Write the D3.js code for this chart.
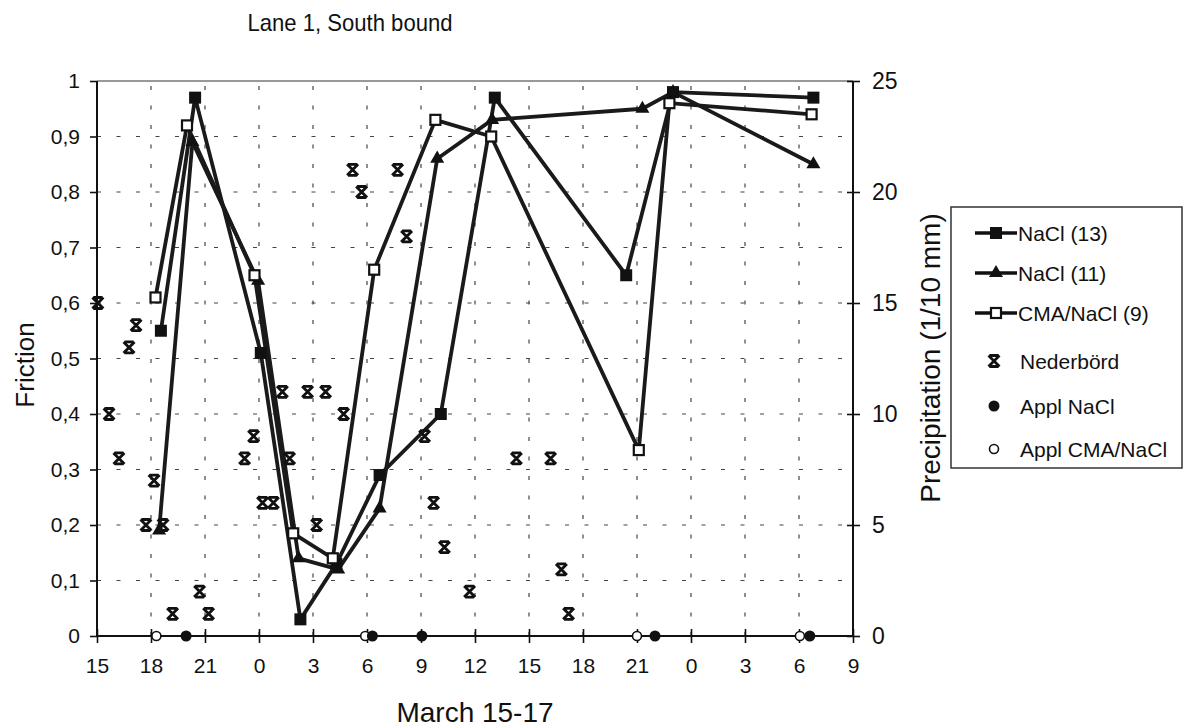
<!DOCTYPE html>
<html><head><meta charset="utf-8">
<script src="https://cdn.jsdelivr.net/npm/d3@7"></script>
<style>body{margin:0;background:#fff}svg{display:block}text{font-family:"Liberation Sans",Arial,sans-serif;fill:#111}</style>
</head><body>
<script>
// hours after 15:00, March 15
const xTickHours = [0,3,6,9,12,15,18,21,24,27,30,33,36,39,42];
const xTickLabels = ["15","18","21","0","3","6","9","12","15","18","21","0","3","6","9"];
const yTicks = [0,0.1,0.2,0.3,0.4,0.5,0.6,0.7,0.8,0.9,1];
const y2Ticks = [0,5,10,15,20,25];

const nacl13Hours = [3.55,5.45,9.1,11.3,13.3,15.7,19.1,22.1,29.4,32.0,39.8];
const nacl13Values = [0.55,0.97,0.51,0.03,0.13,0.29,0.40,0.97,0.65,0.98,0.97];
const nacl11Hours = [3.45,5.3,8.95,11.2,13.4,15.7,18.9,21.95,30.3,32.0,39.8];
const nacl11Values = [0.19,0.89,0.64,0.14,0.12,0.23,0.86,0.93,0.95,0.98,0.85];
const cmaHours = [3.25,5.0,8.75,10.9,13.1,15.4,18.8,21.9,30.1,31.8,39.7];
const cmaValues = [0.61,0.92,0.65,0.185,0.14,0.66,0.93,0.90,0.335,0.96,0.94];

const precipHours = [0.05,0.67,1.22,1.78,2.17,2.72,3.17,3.67,4.2,5.7,6.2,8.2,8.7,9.2,9.8,10.3,10.7,11.7,12.2,12.7,13.7,14.2,14.7,16.7,17.2,18.2,18.7,19.3,20.7,23.3,25.2,25.8,26.2];
const precipValues = [15,10,8,13,14,5,7,5,1,2,1,8,9,6,6,11,8,11,5,11,10,21,20,21,18,9,6,4,2,8,8,3,1];

const applNaClHours = [4.95,15.3,18.05,31.0,39.6];
const applCmaHours = [3.3,14.9,30.0,39.05];

const legendLabels = ["NaCl (13)","NaCl (11)","CMA/NaCl (9)","Nederbörd","Appl NaCl","Appl CMA/NaCl"];

const W=1184,H=728;
const L=97,R=853,T=81,B=636;
const svg=d3.select("body").append("svg").attr("width",W).attr("height",H);
svg.append("rect").attr("width",W).attr("height",H).attr("fill","#fff");

const x=d3.scaleLinear().domain([0,42]).range([L,R]);
const y=d3.scaleLinear().domain([0,1]).range([B,T]);
const y2=d3.scaleLinear().domain([0,25]).range([B,T]);

// grid
const g=svg.append("g");
g.selectAll("line.h").data(yTicks.slice(1,-1)).join("line")
 .attr("x1",L).attr("x2",R).attr("y1",d=>y(d)).attr("y2",d=>y(d))
 .attr("stroke","#444").attr("stroke-width",1.2).attr("stroke-dasharray","4,15.5");
g.selectAll("line.v").data(xTickHours.slice(1,-1)).join("line")
 .attr("y1",B).attr("y2",T).attr("x1",d=>x(d)).attr("x2",d=>x(d))
 .attr("stroke","#444").attr("stroke-width",1.2).attr("stroke-dasharray","4,15.5");
// top border
svg.append("line").attr("x1",L).attr("x2",R).attr("y1",T).attr("y2",T).attr("stroke","#777").attr("stroke-width",1.5);

// axes
const ax=d3.axisLeft(y).tickValues(yTicks).tickSize(7).tickPadding(10).tickFormat(d=>d3.format("~g")(d).replace(".",","));
const axL=svg.append("g").attr("transform",`translate(${L},0)`).call(ax);
const axR=svg.append("g").attr("transform",`translate(${R},0)`).call(d3.axisRight(y2).tickValues(y2Ticks).tickSize(7).tickPadding(12));
const axB=svg.append("g").attr("transform",`translate(0,${B})`).call(d3.axisBottom(x).tickValues(xTickHours).tickSize(7).tickPadding(15).tickFormat((d,i)=>xTickLabels[i]));
[axL,axR,axB].forEach(a=>{
  a.select(".domain").attr("stroke","#111").attr("stroke-width",2);
  a.selectAll(".tick line").attr("stroke","#111").attr("stroke-width",1.6);
  a.selectAll(".tick text").attr("font-size",21).attr("fill","#111").style("font-family",'"Liberation Sans",Arial,sans-serif');
});
axR.selectAll(".tick text").attr("font-size",23);
axR.selectAll(".tick line").attr("x1",-6);
axB.selectAll(".tick line").attr("y1",-7);
axL.select(".domain").attr("d",`M0,${B}V${T}`);
axR.select(".domain").attr("d",`M0,${B}V${T}`);
axB.select(".domain").attr("d",`M${L},0H${R}`);

// series
const line=d3.line().x(d=>x(d[0])).y(d=>y(d[1]));
const series=[
 {h:nacl13Hours,v:nacl13Values,m:"fsq"},
 {h:nacl11Hours,v:nacl11Values,m:"tri"},
 {h:cmaHours,v:cmaValues,m:"osq"}
];
function marker(sel,type,cx,cy){
  if(type==="fsq") sel.append("rect").attr("x",cx-6).attr("y",cy-6).attr("width",12).attr("height",12).attr("fill","#111");
  else if(type==="tri") sel.append("path").attr("d",d3.symbol(d3.symbolTriangle,85)()).attr("transform",`translate(${cx},${cy})`).attr("fill","#111");
  else if(type==="osq") sel.append("rect").attr("x",cx-5).attr("y",cy-5).attr("width",10).attr("height",10).attr("fill","#fff").attr("stroke","#111").attr("stroke-width",2.2);
  else if(type==="star"){
    const s=5.5;
    sel.append("path").attr("d",`M${cx-s},${cy-s}L${cx+s},${cy+s}M${cx-s},${cy+s}L${cx+s},${cy-s}M${cx-s+1},${cy-s}H${cx+s-1}M${cx-s+1},${cy+s}H${cx+s-1}`)
     .attr("stroke","#111").attr("stroke-width",2.8).attr("fill","none");
  }
  else if(type==="fcirc") sel.append("circle").attr("cx",cx).attr("cy",cy).attr("r",5.5).attr("fill","#111");
  else if(type==="ocirc") sel.append("circle").attr("cx",cx).attr("cy",cy).attr("r",4.5).attr("fill","#fff").attr("stroke","#111").attr("stroke-width",1.6);
}
series.forEach(s=>{
  const pts=s.h.map((h,i)=>[h,s.v[i]]);
  svg.append("path").attr("d",line(pts)).attr("fill","none").attr("stroke","#1a1a1a").attr("stroke-width",3.8).attr("stroke-linejoin","round");
});
series.forEach(s=>{
  const mg=svg.append("g");
  s.h.forEach((h,i)=>marker(mg,s.m,x(h),y(s.v[i])));
});
const pg=svg.append("g");
precipHours.forEach((h,i)=>marker(pg,"star",x(h),y2(precipValues[i])));
const ag=svg.append("g");
applCmaHours.forEach(h=>marker(ag,"ocirc",x(h),y(0)));
applNaClHours.forEach(h=>marker(ag,"fcirc",x(h),y(0)));

// titles
svg.append("text").attr("x",350).attr("y",31).attr("text-anchor","middle").attr("font-size",24)
 .attr("textLength",205).attr("lengthAdjust","spacingAndGlyphs").text("Lane 1, South bound");
svg.append("text").attr("transform","translate(34,365) rotate(-90)").attr("text-anchor","middle").attr("font-size",26).text("Friction");
svg.append("text").attr("transform","translate(940,358) rotate(-90)").attr("text-anchor","middle").attr("font-size",28).text("Precipitation (1/10 mm)");
svg.append("text").attr("x",475).attr("y",722).attr("text-anchor","middle").attr("font-size",28).text("March 15-17");

// legend
const lg=svg.append("g");
lg.append("rect").attr("x",951).attr("y",207).attr("width",231).attr("height",261).attr("fill","#fff").attr("stroke","#333").attr("stroke-width",1.5);
const legY=[233,273,313,361,406,449];
const legM=["fsq","tri","osq","star","fcirc","ocirc"];
legendLabels.forEach((t,i)=>{
  if(i<3){
    lg.append("line").attr("x1",975).attr("x2",1017).attr("y1",legY[i]).attr("y2",legY[i]).attr("stroke","#111").attr("stroke-width",3.5);
    marker(lg,legM[i],996,legY[i]);
    lg.append("text").attr("x",1018).attr("y",legY[i]+8).attr("font-size",21).text(t);
  } else {
    marker(lg,legM[i],994,legY[i]);
    lg.append("text").attr("x",1020).attr("y",legY[i]+8).attr("font-size",21).text(t);
  }
});
</script>
</body></html>
